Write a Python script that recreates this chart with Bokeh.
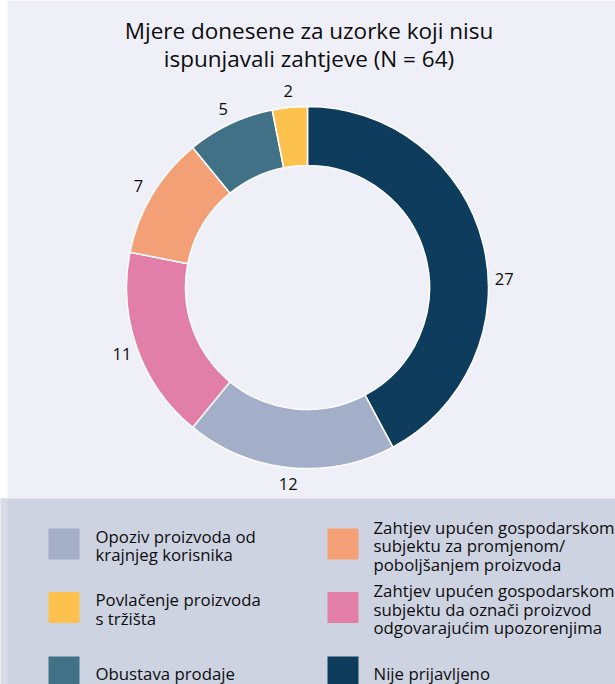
import numpy as np
from bokeh.plotting import figure
from bokeh.models import Range1d
from bokeh.core.properties import value
from bokeh.embed import file_html
from bokeh.resources import INLINE

# ---- data ----
title_lines = ["Mjere donesene za uzorke koji nisu", "ispunjavali zahtjeve (N = 64)"]
categories = [
    "Nije prijavljeno",
    "Opoziv proizvoda od krajnjeg korisnika",
    "Zahtjev upućen gospodarskom subjektu da označi proizvod odgovarajućim upozorenjima",
    "Zahtjev upućen gospodarskom subjektu za promjenom/poboljšanjem proizvoda",
    "Obustava prodaje",
    "Povlačenje proizvoda s tržišta",
]
counts = [27, 12, 11, 7, 5, 2]
colors = ["#0e3c5c", "#a3aec8", "#e27fa8", "#f4a077", "#407187", "#fdc14e"]
legend_order = [1, 5, 4, 3, 2, 0]   # indices into categories, column-wise
legend_lines = {
    0: ["Nije prijavljeno"],
    1: ["Opoziv proizvoda od", "krajnjeg korisnika"],
    2: ["Zahtjev upućen gospodarskom", "subjektu da označi proizvod", "odgovarajućim upozorenjima"],
    3: ["Zahtjev upućen gospodarskom", "subjektu za promjenom/", "poboljšanjem proizvoda"],
    4: ["Obustava prodaje"],
    5: ["Povlačenje proizvoda", "s tržišta"],
}

# ---- layout / style ----
W, H = 615, 684
FONT = "Open Sans"
TXT = "#0d0d0d"
cx, cy = 307, 287
R_OUT, R_IN, R_LAB = 181, 122, 197
label_nudge_deg = {0: -11.5}

def py(y):
    return H - y

p = figure(width=W, height=H, output_backend="svg", toolbar_location=None,
           x_range=Range1d(0, W), y_range=Range1d(0, H), min_border=0)
p.axis.visible = False
p.grid.visible = False
p.outline_line_color = None
p.background_fill_color = "white"
p.border_fill_color = "white"

# panels
p.quad(left=[7], right=[W], bottom=[py(498)], top=[py(0)], fill_color="#eeeff7", line_color=None)
p.quad(left=[0], right=[W], bottom=[py(H)], top=[py(498)], fill_color="#ced3e2", line_color=None)
p.quad(left=[0], right=[7], bottom=[py(H)], top=[py(498)], fill_color="#d8dbe6", line_color=None)

# title
for i, t in enumerate(title_lines):
    p.text(x=[W / 2 + 1], y=[py(30 + 28 * i)], text=[t], text_align="center",
           text_baseline="middle", text_font=value(FONT), text_font_size="22.5px",
           text_color=TXT, text_font_style="normal")

# donut
vals = np.array(counts, dtype=float)
total = vals.sum()
cum = np.concatenate([[0], np.cumsum(vals)])
start = np.pi / 2 - 2 * np.pi * cum[:-1] / total
end = np.pi / 2 - 2 * np.pi * cum[1:] / total
p.annular_wedge(x=cx, y=py(cy), inner_radius=R_IN, outer_radius=R_OUT,
                start_angle=start, end_angle=end, direction="clock",
                fill_color=colors, line_color="white", line_width=1.5)

mid = (start + end) / 2
for i, c in enumerate(counts):
    a = mid[i] + np.deg2rad(label_nudge_deg.get(i, 0))
    p.text(x=[cx + R_LAB * np.cos(a)], y=[py(cy) + R_LAB * np.sin(a)], text=[str(c)],
           text_align="center", text_baseline="middle", text_font=value(FONT),
           text_font_size="16.5px", text_color=TXT)

# legend
col_sq_x = [63.5, 342.5]
col_txt_x = [95, 373]
row_y = [543.5, 607, 671.5]
SQ = 31
LH = 18.5
for k, idx in enumerate(legend_order):
    col, row = k // 3, k % 3
    yc = row_y[row]
    p.rect(x=[col_sq_x[col]], y=[py(yc)], width=SQ, height=SQ,
           fill_color=colors[idx], line_color=None)
    lines = legend_lines[idx]
    n = len(lines)
    for j, ln in enumerate(lines):
        yy = yc + 1.5 + (j - (n - 1) / 2) * LH
        p.text(x=[col_txt_x[col]], y=[py(yy)], text=[ln], text_align="left",
               text_baseline="middle", text_font=value(FONT), text_font_size="16.8px",
               text_color=TXT)

open("out.html", "w").write(file_html(p, INLINE))
